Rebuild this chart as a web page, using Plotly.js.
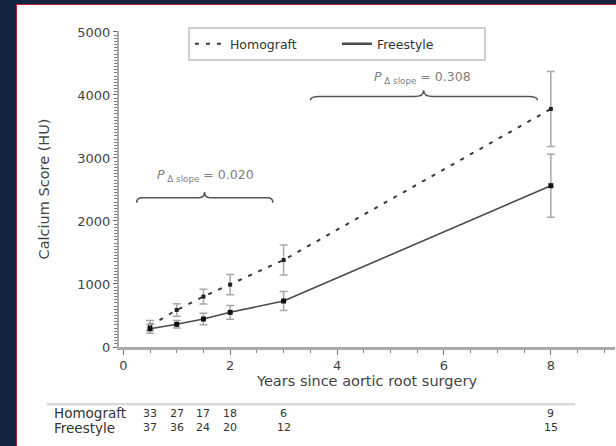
<!DOCTYPE html>
<html>
<head>
<meta charset="utf-8">
<script src="https://cdn.plot.ly/plotly-3.0.1.min.js"></script>
<style>
  html, body { margin: 0; padding: 0; width: 616px; height: 446px; overflow: hidden; background: #12243f; }
  #panel { position: absolute; left: 16px; top: 4px; width: 600px; height: 442px; background: #ffffff;
           border-left: 1.5px solid #b3262e; border-top: 1.5px solid #b3262e; box-sizing: border-box; }
  #chart { position: absolute; left: 0; top: 0; width: 616px; height: 446px; }
</style>
</head>
<body>
<div id="panel"></div>
<div id="chart"></div>
<script>
// ---- data ----
const years = [0.5, 1, 1.5, 2, 3, 8];
const homograftScore = [340, 587, 800, 990, 1381, 3778];
const homograftErr   = [80, 98, 117, 160, 238, 595];
const freestyleScore = [290, 360, 444, 550, 730, 2560];
const freestyleErr   = [70, 60, 90, 110, 150, 500];
const xTickVals = [0, 2, 4, 6, 8];
const yTickVals = [0, 1000, 2000, 3000, 4000, 5000];
const seriesNames = ['Homograft', 'Freestyle'];
const homograftN = ['33', '27', '17', '18', '6', '9'];
const freestyleN = ['37', '36', '24', '20', '12', '15'];
const pLabels = ['<i>P</i><sub> Δ slope</sub> = 0.020', '<i>P</i><sub> Δ slope</sub> = 0.308'];

const FONT = 'DejaVu Sans, Arial, sans-serif';
const homLine = { color: '#3a3a3a', width: 2, dash: '4px,7px' };
const freeLine = { color: '#4a4a4a', width: 1.6 };

const traces = [
  {
    x: years, y: homograftScore, name: seriesNames[0], type: 'scatter', mode: 'lines+markers', showlegend: false,
    line: homLine,
    marker: { symbol: 'square', size: 4, color: '#222' },
    error_y: { type: 'data', array: homograftErr, visible: true, color: '#a8a8a8', thickness: 1.5, width: 4 }
  },
  {
    x: years, y: freestyleScore, name: seriesNames[1], type: 'scatter', mode: 'lines+markers', showlegend: false,
    line: freeLine,
    marker: { symbol: 'square', size: 5, color: '#111' },
    error_y: { type: 'data', array: freestyleErr, visible: true, color: '#a8a8a8', thickness: 1.5, width: 4 }
  },
  // legend entries (line samples only, as in the reference)
  { x: [null], y: [null], name: seriesNames[0], type: 'scatter', mode: 'lines', line: homLine, showlegend: true },
  { x: [null], y: [null], name: seriesNames[1], type: 'scatter', mode: 'lines', line: { color: '#4a4a4a', width: 2.5 }, showlegend: true }
];

// curly brace path in data coordinates (opening downward, peak up)
function brace(x0, x1, xm, y, curl, peak) {
  const e = (x1 - x0) * 0.04;
  return `M ${x0} ${y - curl} Q ${x0} ${y} ${x0 + e} ${y} L ${xm - e} ${y} Q ${xm} ${y} ${xm} ${y + peak} ` +
         `Q ${xm} ${y} ${xm + e} ${y} L ${x1 - e} ${y} Q ${x1} ${y} ${x1} ${y - curl}`;
}

const shapes = [
  { type: 'path', xref: 'x', yref: 'y', path: brace(0.25, 2.8, 1.52, 2370, 80, 90), line: { color: '#555', width: 1.5 } },
  { type: 'path', xref: 'x', yref: 'y', path: brace(3.5, 7.75, 5.62, 3975, 60, 100), line: { color: '#555', width: 1.5 } },
  // rule above the numbers-at-risk table
  { type: 'line', xref: 'paper', yref: 'paper', x0: -0.145, x1: 0.92, y0: -0.181, y1: -0.181, line: { color: '#d9d9d9', width: 2.5 } }
];

const annotations = [
  { x: 1.53, y: 2714, xref: 'x', yref: 'y', text: pLabels[0], showarrow: false, font: { family: FONT, size: 12.5, color: '#808080' } },
  { x: 5.6, y: 4275, xref: 'x', yref: 'y', text: pLabels[1], showarrow: false, font: { family: FONT, size: 12.5, color: '#808080' } },
  { x: -0.135, y: -0.21, xref: 'paper', yref: 'paper', xanchor: 'left', yanchor: 'middle', text: seriesNames[0], showarrow: false, font: { family: FONT, size: 13.5, color: '#333' } },
  { x: -0.135, y: -0.256, xref: 'paper', yref: 'paper', xanchor: 'left', yanchor: 'middle', text: seriesNames[1], showarrow: false, font: { family: FONT, size: 13.5, color: '#333' } }
];
years.forEach((yr, i) => {
  annotations.push({ x: yr, y: -0.21, xref: 'x', yref: 'paper', xanchor: 'center', yanchor: 'middle', text: homograftN[i], showarrow: false, font: { family: FONT, size: 11, color: '#333' } });
  annotations.push({ x: yr, y: -0.256, xref: 'x', yref: 'paper', xanchor: 'center', yanchor: 'middle', text: freestyleN[i], showarrow: false, font: { family: FONT, size: 11, color: '#333' } });
});

const layout = {
  width: 616, height: 446,
  margin: { l: 119, r: 1, t: 31, b: 99 },
  paper_bgcolor: 'rgba(0,0,0,0)', plot_bgcolor: 'rgba(0,0,0,0)',
  font: { family: FONT, color: '#444' },
  showlegend: true,
  legend: {
    orientation: 'h', x: 0.139, y: 1.012, xanchor: 'left', yanchor: 'top',
    bordercolor: '#cfcfcf', borderwidth: 2, bgcolor: '#fff',
    font: { family: FONT, size: 12.5, color: '#333' }, entrywidth: 102, traceorder: 'normal'
  },
  xaxis: {
    range: [-0.08, 9.2], tickvals: xTickVals, ticks: 'outside', ticklen: 5, tickwidth: 1, tickcolor: '#777',
    showline: true, linecolor: '#aaaaaa', linewidth: 2.5, showgrid: false, zeroline: false,
    tickfont: { family: FONT, size: 13, color: '#444' },
    minor: { dtick: 0.5, ticks: 'outside', ticklen: 3, tickcolor: '#888' },
    title: { text: 'Years since aortic root surgery', standoff: 4, font: { family: FONT, size: 14.5, color: '#444' } }
  },
  yaxis: {
    range: [0, 5015], tickvals: yTickVals, ticks: 'outside', ticklen: 4, tickwidth: 1, tickcolor: '#666',
    showline: true, linecolor: '#aaaaaa', linewidth: 2, showgrid: false, zeroline: false,
    tickfont: { family: FONT, size: 13, color: '#444' },
    minor: { dtick: 50, ticks: 'outside', ticklen: 3, tickcolor: '#777' },
    title: { text: 'Calcium Score (HU)', standoff: 24, font: { family: FONT, size: 14.5, color: '#444' } }
  },
  shapes: shapes,
  annotations: annotations
};

Plotly.newPlot('chart', traces, layout, { displayModeBar: false, staticPlot: true });
</script>
</body>
</html>
